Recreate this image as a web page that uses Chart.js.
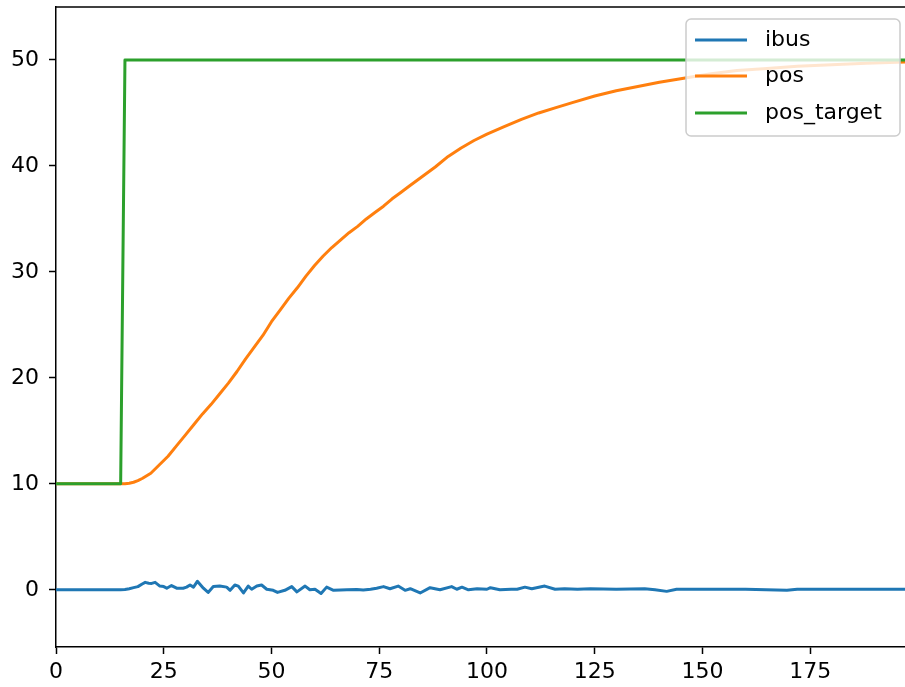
<!DOCTYPE html>
<html>
<head>
<meta charset="utf-8">
<script src="https://cdn.jsdelivr.net/npm/chart.js@4.4.1/dist/chart.umd.min.js"></script>
<style>
  html, body { margin: 0; padding: 0; background: #fff; }
  #wrap { width: 905px; height: 687px; position: relative; }
</style>
</head>
<body>
<div id="wrap"><canvas id="c" width="905" height="687"></canvas></div>
<script>
const seriesNames = ['ibus', 'pos', 'pos_target'];
const seriesColors = ['#1f77b4', '#ff7f0e', '#2ca02c'];

const xTicks = [0, 25, 50, 75, 100, 125, 150, 175];
const yTicks = [0, 10, 20, 30, 40, 50];

const targetX = [0, 15, 16, 197];
const targetY = [10, 10, 50, 50];

const posX = [0, 15, 16, 17, 18, 19, 20, 22, 24, 26, 28, 30, 32, 34, 36, 38, 40, 42, 44, 46, 48, 50, 52, 54, 56, 58, 60, 62, 64, 66, 68, 70, 72, 74, 76, 78, 80, 82, 85, 88, 91, 94, 97, 100, 104, 108, 112, 116, 120, 125, 130, 135, 140, 146, 152, 158, 165, 172, 180, 188, 197];
const posY = [10, 10, 10.0, 10.05, 10.15, 10.3, 10.5, 11.0, 11.8, 12.6, 13.6, 14.6, 15.6, 16.6, 17.5, 18.5, 19.5, 20.6, 21.8, 22.9, 24.0, 25.3, 26.4, 27.5, 28.5, 29.6, 30.6, 31.5, 32.3, 33.0, 33.7, 34.3, 35.0, 35.6, 36.2, 36.9, 37.5, 38.1, 39.0, 39.9, 40.9, 41.7, 42.4, 43.0, 43.7, 44.4, 45.0, 45.5, 46.0, 46.6, 47.1, 47.5, 47.9, 48.3, 48.7, 49.0, 49.2, 49.4, 49.55, 49.7, 49.8];

const ibusX = [0, 15, 16, 17, 18, 19, 20, 20.7, 21.5, 22.2, 23, 24.1, 25, 25.7, 26.8, 28, 29.5, 30.3, 31.1, 31.9, 32.8, 34.2, 35.3, 36.5, 38, 39.6, 40.4, 41.5, 42.3, 43.5, 44.6, 45.4, 46.6, 47.7, 48.9, 50.4, 51.4, 53.1, 54.7, 55.9, 57.8, 58.9, 60.1, 61.5, 62.8, 64.4, 66, 67.5, 69.8, 71.3, 73, 74.4, 76, 77.5, 79.4, 81, 82.2, 84.5, 86.8, 89.1, 91.8, 93, 94.2, 95.7, 97.7, 100, 100.8, 103, 105.6, 107, 108.8, 110.4, 113.4, 115.8, 118, 121, 124, 130, 136.6, 139, 141.7, 144, 150, 160, 169.6, 172, 180, 197];
const ibusY = [0, 0, 0.02, 0.1, 0.2, 0.3, 0.55, 0.7, 0.62, 0.6, 0.7, 0.35, 0.3, 0.15, 0.4, 0.15, 0.15, 0.25, 0.45, 0.25, 0.8, 0.15, -0.25, 0.3, 0.35, 0.25, -0.05, 0.45, 0.35, -0.3, 0.35, 0.05, 0.35, 0.45, 0.05, -0.05, -0.25, -0.05, 0.3, -0.2, 0.35, 0.0, 0.05, -0.35, 0.25, -0.05, -0.02, 0.0, 0.02, -0.03, 0.05, 0.15, 0.3, 0.1, 0.35, -0.05, 0.1, -0.3, 0.2, 0.0, 0.3, 0.05, 0.25, 0.0, 0.1, 0.05, 0.2, 0.0, 0.05, 0.05, 0.25, 0.1, 0.35, 0.05, 0.1, 0.05, 0.1, 0.05, 0.1, 0.0, -0.15, 0.05, 0.05, 0.05, -0.05, 0.05, 0.05, 0.05];

const toXY = (xs, ys) => xs.map((x, i) => ({ x: x, y: ys[i] }));

const FONT = 'DejaVu Sans';

const frameAndLegend = {
  id: 'frameAndLegend',
  afterDatasetsDraw(chart) {
    const ctx = chart.ctx;
    const a = chart.chartArea;
    ctx.save();
    // top spine
    ctx.strokeStyle = '#000';
    ctx.lineWidth = 1.5;
    ctx.beginPath();
    ctx.moveTo(a.left - 0.75, a.top);
    ctx.lineTo(a.right, a.top);
    ctx.stroke();

    // legend box
    const bx = 686, by = 19, bw = 214, bh = 117, r = 5;
    ctx.beginPath();
    ctx.moveTo(bx + r, by);
    ctx.lineTo(bx + bw - r, by);
    ctx.arcTo(bx + bw, by, bx + bw, by + r, r);
    ctx.lineTo(bx + bw, by + bh - r);
    ctx.arcTo(bx + bw, by + bh, bx + bw - r, by + bh, r);
    ctx.lineTo(bx + r, by + bh);
    ctx.arcTo(bx, by + bh, bx, by + bh - r, r);
    ctx.lineTo(bx, by + r);
    ctx.arcTo(bx, by, bx + r, by, r);
    ctx.closePath();
    ctx.fillStyle = 'rgba(255,255,255,0.8)';
    ctx.fill();
    ctx.strokeStyle = '#cccccc';
    ctx.lineWidth = 1.5;
    ctx.stroke();

    const rows = [40, 76, 113];
    ctx.font = '22px "' + FONT + '"';
    ctx.textBaseline = 'middle';
    ctx.textAlign = 'left';
    chart.data.datasets.forEach((ds, i) => {
      const y = rows[i];
      ctx.strokeStyle = ds.borderColor;
      ctx.lineWidth = 3;
      ctx.lineCap = 'butt';
      ctx.beginPath();
      ctx.moveTo(695, y);
      ctx.lineTo(747, y);
      ctx.stroke();
      ctx.fillStyle = '#000';
      ctx.fillText(ds.label, 765, y);
    });
    ctx.restore();
  }
};

new Chart(document.getElementById('c'), {
  type: 'line',
  data: {
    datasets: [
      { label: seriesNames[0], data: toXY(ibusX, ibusY), borderColor: seriesColors[0], order: 3 },
      { label: seriesNames[1], data: toXY(posX, posY), borderColor: seriesColors[1], order: 2 },
      { label: seriesNames[2], data: toXY(targetX, targetY), borderColor: seriesColors[2], order: 1 }
    ]
  },
  options: {
    responsive: false,
    animation: false,
    devicePixelRatio: 1,
    layout: { padding: { top: 7, right: 0, left: 0, bottom: 0 } },
    elements: {
      line: { borderWidth: 3, tension: 0, fill: false, borderJoinStyle: 'round', borderCapStyle: 'butt' },
      point: { radius: 0, hoverRadius: 0 }
    },
    plugins: {
      legend: { display: false },
      tooltip: { enabled: false }
    },
    scales: {
      x: {
        type: 'linear',
        min: 0,
        max: 197,
        afterBuildTicks: (s) => { s.ticks = xTicks.map(v => ({ value: v })); },
        afterFit: (s) => { s.height = 40; s.paddingLeft = 0; s.paddingRight = 0; },
        grid: { display: true, drawOnChartArea: false, drawTicks: true, tickLength: 7, tickWidth: 1.5, color: '#000' },
        border: { display: true, color: '#000', width: 1.5 },
        ticks: { color: '#000', font: { family: FONT, size: 22 }, padding: 5, maxRotation: 0, autoSkip: false }
      },
      y: {
        type: 'linear',
        min: -5.4,
        max: 55.0,
        afterBuildTicks: (s) => { s.ticks = yTicks.map(v => ({ value: v })); },
        afterFit: (s) => { s.width = 56; s.paddingTop = 0; s.paddingBottom = 0; },
        grid: { display: true, drawOnChartArea: false, drawTicks: true, tickLength: 7, tickWidth: 1.5, color: '#000' },
        border: { display: true, color: '#000', width: 1.5 },
        ticks: { color: '#000', font: { family: FONT, size: 22 }, padding: 10, autoSkip: false }
      }
    }
  },
  plugins: [frameAndLegend]
});
</script>
</body>
</html>
